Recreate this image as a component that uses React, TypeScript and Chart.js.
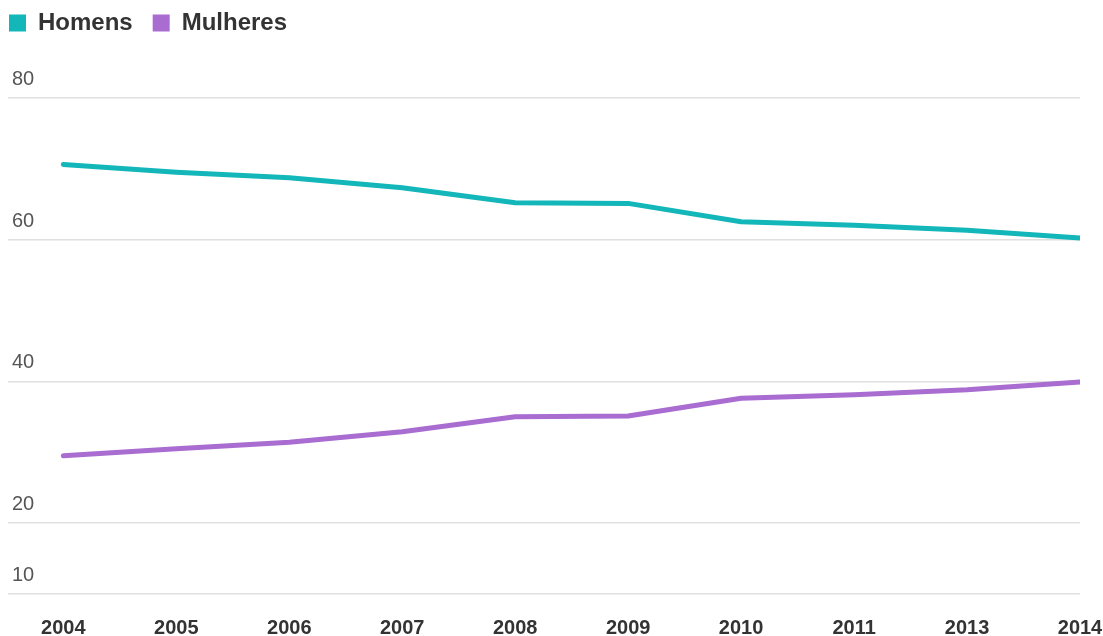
import React, { useEffect, useRef } from "react";
import { Chart, registerables } from "chart.js";

Chart.register(...registerables);

const years = ["2004", "2005", "2006", "2007", "2008", "2009", "2010", "2011", "2013", "2014"];
const homens = [70.6, 69.5, 68.7, 67.3, 65.2, 65.1, 62.5, 62.0, 61.3, 60.2];
const mulheres = [29.5, 30.5, 31.4, 32.9, 35.0, 35.1, 37.6, 38.1, 38.8, 39.9];
const yTicks = [10, 20, 40, 60, 80];

const TEAL = "#13b6b9";
const PURPLE = "#a96cd0";

export default function App() {
  const ref = useRef<HTMLCanvasElement | null>(null);

  useEffect(() => {
    if (!ref.current) return;
    const chart = new Chart(ref.current, {
      type: "line",
      data: {
        datasets: [
          {
            label: "Homens",
            data: homens.map((v, i) => ({ x: i, y: v })),
            borderColor: TEAL,
            backgroundColor: TEAL,
            borderWidth: 5,
            borderCapStyle: "round",
            borderJoinStyle: "round",
            pointRadius: 0,
            tension: 0,
          },
          {
            label: "Mulheres",
            data: mulheres.map((v, i) => ({ x: i, y: v })),
            borderColor: PURPLE,
            backgroundColor: PURPLE,
            borderWidth: 5,
            borderCapStyle: "round",
            borderJoinStyle: "round",
            pointRadius: 0,
            tension: 0,
          },
        ],
      },
      options: {
        animation: false,
        responsive: false,
        maintainAspectRatio: false,
        layout: { padding: { left: 0, right: 23, top: 0, bottom: 0 } },
        plugins: {
          tooltip: { enabled: false },
          legend: {
            display: true,
            position: "top",
            align: "start",
            labels: {
              boxWidth: 17,
              boxHeight: 17,
              padding: 20,
              color: "#333333",
              font: { family: "'Liberation Sans', Arial, sans-serif", size: 24, weight: "bold" },
              generateLabels: (c: any) =>
                Chart.defaults.plugins.legend.labels.generateLabels(c).map((l: any) => ({
                  ...l,
                  lineWidth: 0,
                  strokeStyle: "rgba(0,0,0,0)",
                })),
            },
          },
        },
        scales: {
          x: {
            type: "linear",
            min: -0.49,
            max: 9,
            border: { display: false },
            grid: { display: false, drawTicks: false },
            afterBuildTicks: (scale: any) => {
              scale.ticks = years.map((_, i) => ({ value: i }));
            },
            afterFit: (scale: any) => {
              scale.paddingLeft = 0;
              scale.paddingRight = 0;
            },
            ticks: {
              autoSkip: false,
              maxRotation: 0,
              padding: 22,
              color: "#333333",
              font: { family: "'Liberation Sans', Arial, sans-serif", size: 20, weight: "bold", lineHeight: 1.2 },
              callback: (v: any) => years[Math.round(Number(v))] ?? "",
            },
          },
          y: {
            type: "linear",
            min: 10,
            max: 87.44,
            border: { display: false },
            afterBuildTicks: (scale: any) => {
              scale.ticks = yTicks.map((v) => ({ value: v }));
            },
            afterFit: (scale: any) => {
              scale.width = 19;
            },
            grid: { color: "#e0e0e0", lineWidth: 1.5, drawTicks: false },
            ticks: {
              mirror: true,
              padding: 4,
              labelOffset: -18.5,
              color: "#555555",
              font: { family: "'Liberation Sans', Arial, sans-serif", size: 20 },
            },
          },
        },
      },
    });
    return () => chart.destroy();
  }, []);

  return (
    <div style={{ position: "absolute", left: 0, top: 0, width: 1103, height: 636, overflow: "hidden" }}>
      <div style={{ position: "absolute", left: -11, top: -9, width: 1114, height: 671 }}>
        <canvas ref={ref} width={1114} height={671} style={{ width: 1114, height: 671, display: "block" }} />
      </div>
    </div>
  );
}
